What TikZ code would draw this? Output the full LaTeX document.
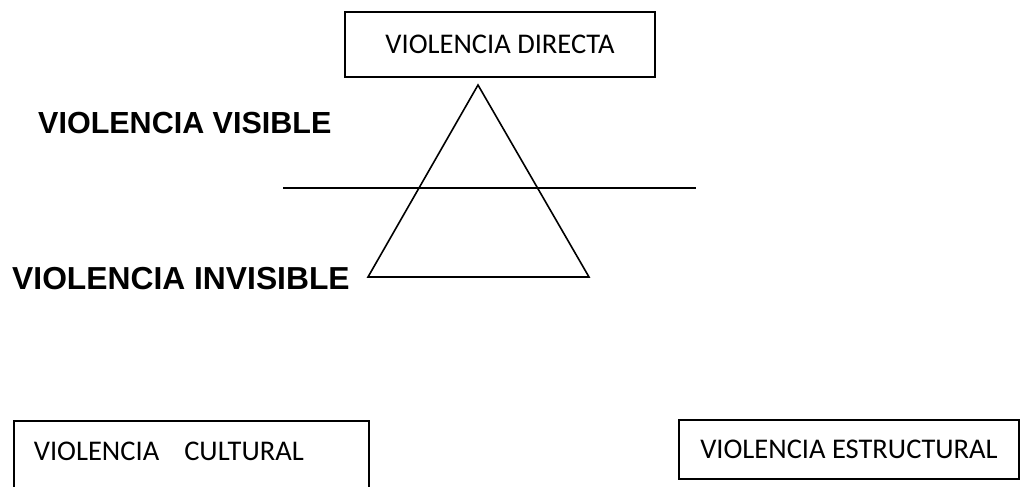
\documentclass[tikz,border=0pt]{standalone}
\usepackage{fontspec}
\setmainfont{Carlito}
\newfontfamily\labelfont{Liberation Sans}
\usepackage{tikz}

\begin{document}
\begin{tikzpicture}[x=1pt,y=-1pt,
	box/.style={draw,line width=1.8pt,font=\fontsize{28.5}{30}\selectfont},
	sidelabel/.style={inner sep=0pt,anchor=base west,font=\labelfont\bfseries\fontsize{30.5}{32}\selectfont}]
	% Page
	\clip (0,0) rectangle (1021,487);
	% Boxes
	\node[box,minimum width=310pt,minimum height=65pt] (directa) at (500,44.5) {VIOLENCIA DIRECTA};
	\node[box,anchor=north west,text width=315pt,align=left,inner xsep=20pt,inner ysep=22pt,text height=18pt,text depth=60pt] (cultural) at (13,420) {VIOLENCIA\hspace{25pt}CULTURAL};
	\node[box,minimum width=340pt,minimum height=59pt] (estructural) at (849,449.5) {VIOLENCIA ESTRUCTURAL};
	% Side labels
	\node[sidelabel] (visible) at (38,133) {VIOLENCIA VISIBLE};
	\node[sidelabel,font=\labelfont\bfseries\fontsize{31.8}{33}\selectfont] (invisible) at (12,289) {VIOLENCIA INVISIBLE};
	% Triangle and dividing line
	\coordinate (apex) at (478,85);
	\coordinate (base left) at (368,277);
	\coordinate (base right) at (589,277);
	\coordinate (line left) at (283,188);
	\coordinate (line right) at (696,188);
	\draw[line width=1.6pt] (apex) -- (base left) -- (base right) -- cycle;
	\draw[line width=1.6pt] (line left) -- (line right);
\end{tikzpicture}
\end{document}
